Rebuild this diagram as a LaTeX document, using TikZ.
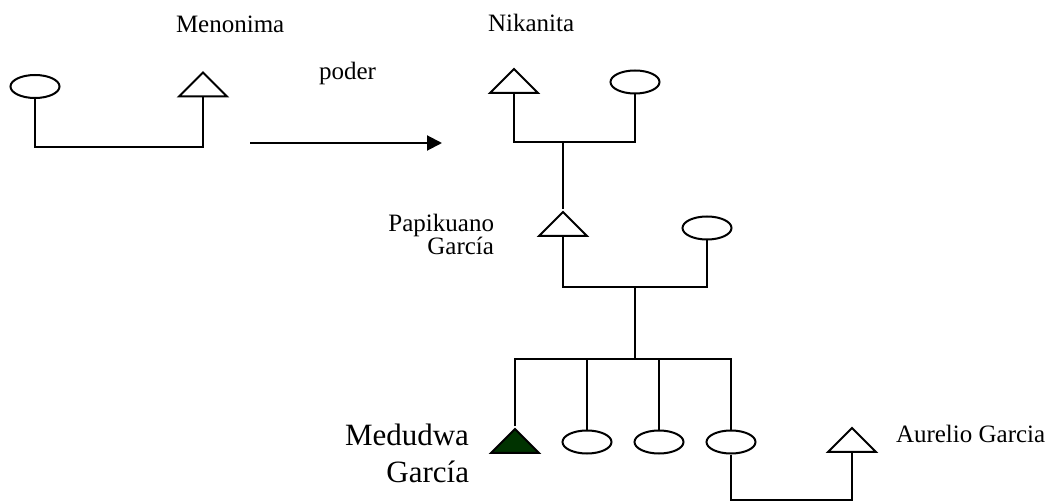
\documentclass[tikz,border=0pt]{standalone}
\usepackage{fontspec}
\setmainfont{Liberation Serif}
\usetikzlibrary{shapes.geometric,arrows.meta}
\definecolor{darkleaf}{RGB}{0,51,0}

\begin{document}
\begin{tikzpicture}[x=0.5pt,y=-0.5pt,line width=1pt,
  female/.style={ellipse,draw,inner sep=0pt,minimum width=24.5pt,minimum height=11.5pt},
  male/.style={isosceles triangle,draw,shape border rotate=90,
    isosceles triangle stretches,inner sep=0pt,minimum width=24pt,minimum height=12pt},
  pname/.style={font=\fontsize{12.5}{11.5}\selectfont,inner sep=0pt},
  bigname/.style={font=\fontsize{15.5}{18.5}\selectfont,inner sep=0pt}]
\useasboundingbox (0,0) rectangle (1055,502);

% first couple
\node[female] (f1) at (35,86.5) {};
\node[male]   (m1) at (203,86.5) {};
\coordinate (u1) at (120,147);
\draw (f1.south) |- (u1) -| (m1.lower side);
\node[pname,anchor=base west] (menonima) at (175,33) {Menonima};

% transfer arrow
\coordinate (a0) at (250,143);
\coordinate (a1) at (442,143);
\draw[-{Triangle[length=7.5pt,width=7.5pt]}] (a0) -- (a1);
\node[pname,anchor=base west] (poder) at (318,80) {poder};

% second couple
\node[male]   (m2) at (514,83) {};
\node[female] (f2) at (635,82) {};
\coordinate (u2) at (563,142);
\draw (m2.lower side) |- (u2) -| (f2.south);
\node[pname,anchor=base west] (nikanita) at (487,32) {Nikanita};

% their son and his wife
\node[male]   (m3) at (563,226) {};
\node[female] (f3) at (707,228) {};
\draw (u2) -- (m3.apex);
\coordinate (u3) at (635,287);
\draw (m3.lower side) |- (u3) -| (f3.south);
\node[pname,anchor=base east,align=right] (papikuano) at (495,255) {Papikuano\\García};

% children
\coordinate (s0) at (635,359);
\draw (u3) -- (s0);
\node[male,fill=darkleaf] (d1) at (515,443) {};
\node[female] (f4) at (587,442) {};
\node[female] (f5) at (659,442) {};
\node[female] (f6) at (731,442) {};
\draw (d1.apex) |- (s0) -| (f6.north);
\draw (f4.north) -- (f4.north |- s0);
\draw (f5.north) -- (f5.north |- s0);
\node[bigname,anchor=base east,align=right] (medudwa) at (470,482) {Medudwa\\García};

% daughter's husband
\node[male] (m5) at (852,442) {};
\coordinate (u4) at (790,500);
\draw (f6.south) |- (u4) -| (m5.lower side);
\node[pname,anchor=base west] (aurelio) at (895,442) {Aurelio Garcia};
\end{tikzpicture}
\end{document}
